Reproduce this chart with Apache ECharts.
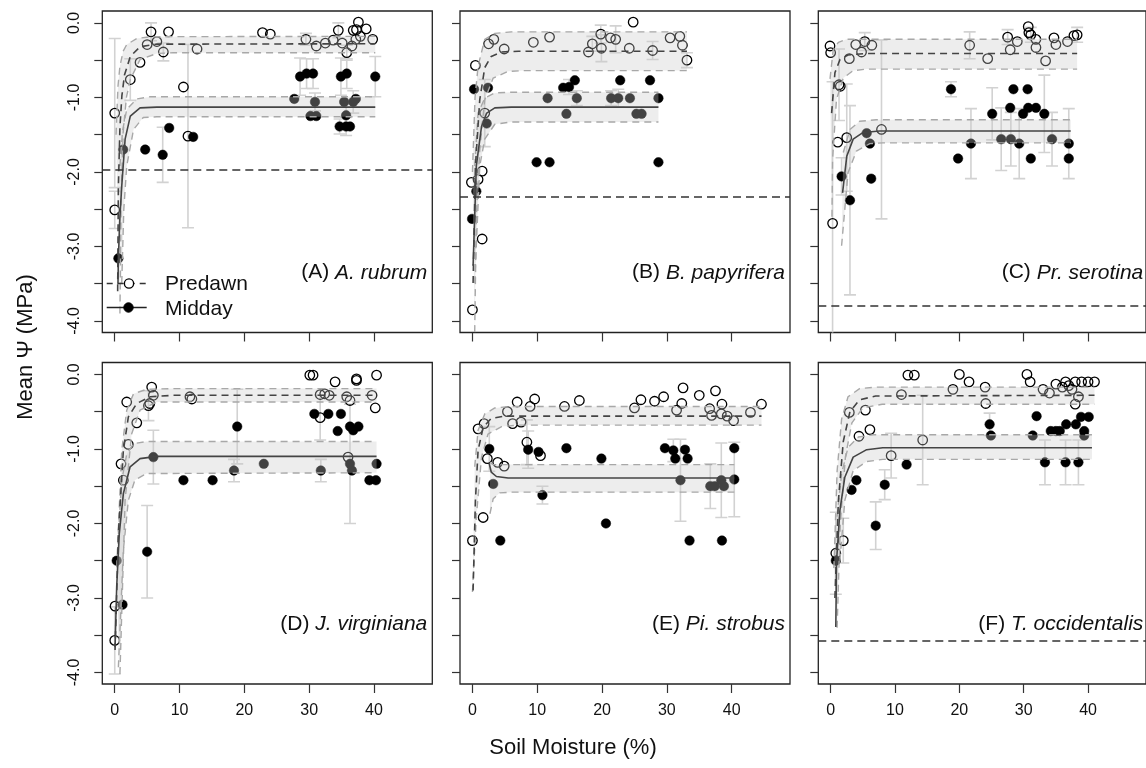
<!DOCTYPE html>
<html>
<head>
<meta charset="utf-8">
<title>Mean water potential vs soil moisture</title>
<script src="https://cdn.jsdelivr.net/npm/echarts@6.0.0/dist/echarts.min.js"></script>
<style>
  html, body { margin: 0; padding: 0; background: #ffffff; }
  #chart { width: 1146px; height: 768px; }
</style>
</head>
<body>
<div id="chart"></div>
<script>
// ---- panel text ----
const panelLetters = ['A', 'B', 'C', 'D', 'E', 'F'];
const speciesNames = ['A. rubrum', 'B. papyrifera', 'Pr. serotina', 'J. virginiana', 'Pi. strobus', 'T. occidentalis'];
const thresholds = [-1.97, -2.33, -3.80, null, null, -3.57];

// ---- axis ticks ----
const xTickValues = [0, 10, 20, 30, 40];
const yTickValues = [0, -0.5, -1, -1.5, -2, -2.5, -3, -3.5, -4];
const yLabelValues = [0, -1, -2, -3, -4];

// ---- observations: [soil moisture %, mean psi MPa, error] ----
const predawnA = [[0.0,-1.21,1.0],[0.0,-2.51,0.25],[2.4,-0.76,0.28],[3.9,-0.53,0],[5.0,-0.29,0],[5.6,-0.12,0.12],[6.5,-0.25,0],[7.5,-0.39,0.12],[8.3,-0.12,0],[10.6,-0.86,0],[11.3,-1.52,1.23],[12.7,-0.35,0],[22.8,-0.13,0],[24.0,-0.15,0],[29.5,-0.22,0.08],[31.1,-0.31,0],[32.5,-0.27,0],[33.7,-0.23,0],[34.5,-0.10,0.1],[35.1,-0.27,0],[35.8,-0.40,0.1],[36.6,-0.31,0],[36.8,-0.10,0],[37.2,-0.22,0],[37.3,-0.09,0],[37.6,0.01,0],[37.9,-0.18,0],[38.8,-0.08,0],[39.8,-0.22,0]];
const middayA = [[0.56,-3.16,0],[1.3,-1.70,0],[4.7,-1.70,0],[7.4,-1.77,0.37],[8.4,-1.41,0],[12.1,-1.53,0],[27.7,-1.02,0],[28.6,-0.72,0.25],[29.6,-0.68,0.2],[30.6,-0.68,0.2],[30.9,-1.06,0.12],[30.2,-1.25,0],[31.1,-1.25,0],[34.9,-0.72,0.25],[35.8,-0.68,0.2],[35.4,-1.06,0],[35.7,-1.24,0.15],[34.7,-1.39,0.1],[35.7,-1.39,0.12],[36.3,-1.39,0],[36.8,-1.06,0.15],[37.2,-1.02,0],[40.2,-0.72,0.27]];

const predawnB = [[0.46,-0.57,0],[2.5,-0.28,0],[3.3,-0.22,0],[4.9,-0.35,0],[9.4,-0.26,0],[11.9,-0.19,0],[17.9,-0.39,0],[18.5,-0.28,0.1],[19.8,-0.15,0.12],[19.9,-0.34,0.18],[21.3,-0.20,0],[22.1,-0.22,0.18],[24.2,-0.34,0],[24.8,0.01,0],[27.8,-0.37,0.12],[30.5,-0.20,0],[32.0,-0.18,0],[32.4,-0.30,0],[33.1,-0.50,0.1],[-0.16,-2.14,0],[0.87,-2.10,0],[1.5,-1.99,0],[1.5,-2.90,0],[1.9,-1.21,0.45],[0.0,-3.85,0]];
const middayB = [[0.25,-0.89,0],[2.4,-0.87,0],[2.2,-1.35,0],[0.6,-2.26,0],[-0.06,-2.63,0],[11.6,-1.01,0],[14.0,-0.87,0],[14.9,-0.86,0.1],[15.8,-0.77,0],[16.1,-1.01,0.1],[14.5,-1.22,0],[9.9,-1.87,0],[11.9,-1.87,0],[21.4,-1.01,0.1],[22.5,-1.01,0.12],[22.8,-0.77,0],[24.3,-1.01,0],[25.3,-1.22,0],[26.1,-1.22,0],[27.4,-0.77,0],[28.7,-1.01,0],[28.7,-1.87,0]];

const predawnC = [[-0.1,-0.31,0],[0.0,-0.40,0],[1.3,-0.83,0.48],[1.5,-0.85,0],[2.9,-0.48,0],[3.9,-0.29,0],[4.8,-0.39,0],[5.3,-0.25,0.12],[6.4,-0.30,0],[1.1,-1.60,0],[2.5,-1.54,0.72],[7.9,-1.43,1.2],[0.3,-2.69,1.9],[21.6,-0.30,0.18],[24.4,-0.48,0],[27.5,-0.19,0.1],[27.9,-0.36,0],[29.0,-0.25,0],[30.7,-0.05,0],[30.8,-0.13,0],[31.1,-0.16,0.1],[31.9,-0.22,0],[31.9,-0.33,0],[33.4,-0.51,0],[34.7,-0.20,0],[35.0,-0.29,0],[36.8,-0.25,0],[37.8,-0.17,0],[38.3,-0.16,0.1]];
const middayC = [[1.7,-2.06,0.25],[3.0,-2.38,1.27],[5.6,-1.48,0],[6.1,-1.62,0],[6.3,-2.09,0],[18.7,-0.89,0.1],[19.8,-1.82,0],[21.8,-1.62,0.47],[25.1,-1.22,0.35],[26.5,-1.56,0.42],[27.9,-1.14,0],[28.0,-1.56,0.36],[28.4,-0.89,0],[29.3,-1.62,0.47],[29.9,-1.22,0],[30.6,-0.89,0],[30.7,-1.14,0],[31.1,-1.82,0],[31.9,-1.14,0],[33.2,-1.22,0.52],[34.4,-1.56,0.36],[37.0,-1.62,0.47],[37.0,-1.82,0]];

const predawnD = [[0.0,-3.57,0.45],[0.05,-3.11,0],[0.97,-1.20,0],[1.33,-1.42,0],[2.1,-0.94,0],[3.4,-0.65,0],[1.85,-0.37,0],[5.2,-0.42,0.2],[5.7,-0.17,0],[5.96,-0.28,0],[5.4,-0.39,0],[11.6,-0.30,0],[11.9,-0.33,0],[30.1,-0.01,0],[30.6,-0.01,0],[31.7,-0.58,0.3],[31.7,-0.27,0],[32.4,-0.26,0],[33.1,-0.28,0],[34.0,-0.10,0],[35.8,-0.30,0],[36.0,-1.11,0],[36.3,-0.35,0],[37.3,-0.08,0],[37.3,-0.06,0],[39.7,-0.28,0],[40.4,-0.01,0],[40.2,-0.45,0]];
const middayD = [[0.3,-2.50,0],[1.2,-3.09,0],[5.0,-2.38,0.62],[5.96,-1.11,0.36],[10.6,-1.42,0],[15.1,-1.42,0],[18.4,-1.29,0.15],[18.9,-0.70,0.5],[23.0,-1.20,0],[30.8,-0.53,0],[31.8,-1.29,0.15],[32.96,-0.53,0],[34.4,-0.76,0],[34.9,-0.53,0],[36.3,-0.70,0],[36.8,-0.75,0],[37.6,-0.70,0],[36.3,-1.20,0.8],[36.6,-1.29,0],[39.3,-1.42,0],[40.3,-1.42,0],[40.4,-1.20,0]];

const predawnE = [[0.0,-2.23,0],[1.65,-1.92,0],[0.87,-0.73,0],[1.8,-0.66,0],[2.3,-1.13,0],[3.9,-1.18,0],[4.9,-1.23,0],[5.4,-0.50,0],[6.2,-0.66,0],[7.5,-0.64,0],[6.9,-0.37,0],[8.9,-0.43,0],[8.4,-0.91,0.3],[9.6,-0.33,0],[10.5,-1.09,0],[14.2,-0.43,0],[16.5,-0.35,0],[25.0,-0.45,0],[26.0,-0.34,0],[28.1,-0.36,0],[29.5,-0.30,0],[31.5,-0.48,0],[32.3,-0.39,0],[32.5,-0.18,0],[35.0,-0.28,0],[36.6,-0.46,0],[36.9,-0.55,0],[37.5,-0.22,0],[38.4,-0.53,0],[38.5,-0.40,0],[39.3,-0.56,0],[40.3,-0.62,0],[42.9,-0.51,0],[44.6,-0.40,0]];
const middayE = [[2.6,-1.00,0.3],[3.2,-1.47,0],[4.3,-2.23,0],[8.6,-1.01,0.25],[10.2,-1.04,0],[10.8,-1.62,0.12],[14.5,-0.99,0],[19.9,-1.13,0],[20.6,-2.00,0],[29.7,-0.99,0],[31.0,-1.02,0.15],[31.3,-1.13,0],[32.1,-1.42,0.55],[32.8,-1.01,0],[33.2,-1.13,0],[33.5,-2.23,0],[36.7,-1.50,0.3],[37.4,-1.50,0],[38.4,-1.42,0.5],[38.8,-1.50,0],[38.5,-2.23,0],[40.4,-0.99,0],[40.4,-1.41,0.5]];

const predawnF = [[0.8,-2.40,0.55],[1.96,-2.23,0.3],[2.9,-0.51,0],[4.4,-0.83,0],[5.4,-0.48,0],[6.1,-0.74,0],[9.4,-1.09,0.3],[14.3,-0.88,0.6],[11.0,-0.27,0],[12.0,-0.01,0],[13.0,-0.01,0],[19.0,-0.20,0],[20.0,0.0,0],[21.5,-0.10,0],[24.0,-0.17,0],[24.1,-0.39,0],[30.5,0.0,0],[31.0,-0.10,0],[33.0,-0.20,0],[34.0,-0.25,0],[35.0,-0.13,0],[36.0,-0.17,0],[36.5,-0.10,0],[37.0,-0.15,0],[37.5,-0.20,0],[38.0,-0.40,0],[38.0,-0.10,0],[38.5,-0.30,0],[39.0,-0.10,0],[40.0,-0.10,0],[41.0,-0.10,0]];
const middayF = [[0.8,-2.50,0],[3.25,-1.55,0],[4.0,-1.42,0],[7.0,-2.03,0.32],[8.4,-1.48,0.2],[11.8,-1.21,0],[24.7,-0.67,0.15],[24.9,-0.82,0],[31.4,-0.82,0],[32.0,-0.56,0],[33.3,-1.18,0.3],[34.2,-0.76,0],[35.0,-0.76,0],[35.6,-0.76,0],[36.5,-1.18,0.3],[36.6,-0.67,0],[38.1,-0.67,0],[38.5,-1.18,0.3],[38.9,-0.57,0],[39.4,-0.76,0],[39.4,-0.82,0],[40.1,-0.57,0]];

// ---- fitted curves and confidence bounds: [soil moisture %, psi MPa] ----
const predawnFitA = [[0.45,-3.6],[0.56,-2.2],[0.8,-1.4],[1.1,-0.98],[1.5,-0.70],[2.4,-0.45],[3.9,-0.32],[6.5,-0.285],[40.2,-0.28]];
const predawnUpperA = [[0.2,-1.5],[0.5,-0.85],[0.8,-0.58],[1.3,-0.38],[1.85,-0.29],[3.4,-0.21],[5.5,-0.185],[40.2,-0.18]];
const predawnLowerA = [[0.8,-3.9],[1.0,-2.3],[1.3,-1.47],[1.8,-1.0],[2.4,-0.76],[3.9,-0.49],[6.5,-0.41],[9,-0.40],[40.2,-0.40]];
const middayFitA = [[0.5,-3.5],[0.56,-3.16],[0.8,-2.6],[1.08,-2.19],[1.6,-1.56],[2.4,-1.25],[3.9,-1.14],[6.5,-1.13],[40.2,-1.13]];
const middayUpperA = [[0.8,-1.92],[1.2,-1.45],[1.85,-1.16],[3.4,-1.02],[5.5,-0.99],[40.2,-0.99]];
const middayLowerA = [[1.08,-3.49],[1.4,-2.5],[1.85,-1.92],[2.9,-1.43],[4.4,-1.27],[6.5,-1.26],[40.2,-1.26]];

const predawnFitB = [[0.1,-3.49],[0.46,-1.92],[1.13,-1.03],[1.9,-0.60],[2.9,-0.45],[4.5,-0.39],[7.1,-0.38],[33.1,-0.38]];
const predawnUpperB = [[0.0,-2.0],[0.4,-1.0],[0.87,-0.58],[1.9,-0.22],[3.45,-0.14],[6,-0.12],[33.1,-0.12]];
const predawnLowerB = [[0.35,-4.15],[0.6,-2.6],[1.13,-1.70],[1.9,-1.03],[3.2,-0.74],[5.5,-0.65],[8,-0.64],[33.1,-0.64]];
const middayFitB = [[0.1,-3.26],[0.6,-1.92],[1.4,-1.39],[2.2,-1.21],[3.45,-1.14],[6,-1.13],[28.7,-1.13]];
const middayUpperB = [[0.35,-1.92],[0.87,-1.21],[1.9,-1.01],[3.45,-0.94],[6,-0.93],[28.7,-0.93]];
const middayLowerB = [[0.35,-3.49],[1.13,-1.92],[1.9,-1.56],[3.45,-1.36],[6,-1.33],[28.7,-1.33]];

const predawnFitC = [[0.15,-1.21],[0.66,-0.67],[1.45,-0.49],[2.7,-0.43],[5.6,-0.41],[38.3,-0.41]];
const predawnUpperC = [[-0.1,-0.75],[0.4,-0.36],[1.2,-0.26],[2.5,-0.22],[38.3,-0.22]];
const predawnLowerC = [[0.2,-2.6],[0.3,-1.83],[0.9,-1.03],[1.96,-0.74],[3.5,-0.64],[5.6,-0.62],[38.3,-0.62]];
const middayFitC = [[1.85,-2.28],[2.5,-1.79],[3.5,-1.56],[5.05,-1.47],[7.6,-1.45],[37.3,-1.45]];
const middayUpperC = [[1.96,-1.74],[3.0,-1.43],[4.5,-1.32],[7.1,-1.30],[37.3,-1.30]];
const middayLowerC = [[1.7,-2.99],[2.7,-2.01],[4.0,-1.72],[6.1,-1.62],[8.1,-1.61],[37.3,-1.61]];

const predawnFitD = [[0.05,-3.7],[0.56,-2.14],[1.33,-1.02],[2.1,-0.57],[3.4,-0.39],[5.45,-0.30],[9,-0.28],[40.4,-0.28]];
const predawnUpperD = [[0.3,-2.59],[1.08,-1.02],[1.85,-0.48],[2.9,-0.26],[4.9,-0.20],[9,-0.19],[40.4,-0.19]];
const predawnLowerD = [[0.8,-4.02],[1.6,-1.69],[2.6,-0.80],[3.9,-0.48],[6.5,-0.37],[40.4,-0.37]];
const middayFitD = [[0.05,-3.66],[0.3,-2.85],[0.7,-2.14],[1.33,-1.60],[2.37,-1.24],[3.9,-1.13],[6.5,-1.10],[40.4,-1.10]];
const middayUpperD = [[0.56,-2.14],[1.08,-1.42],[1.85,-1.07],[2.9,-0.93],[4.9,-0.90],[40.4,-0.90]];
const middayLowerD = [[0.56,-3.93],[1.33,-2.36],[2.1,-1.69],[3.1,-1.42],[4.9,-1.33],[40.4,-1.32]];

const predawnFitE = [[0.1,-2.9],[0.46,-1.69],[0.87,-1.02],[1.65,-0.71],[2.9,-0.59],[5,-0.56],[44.6,-0.56]];
const predawnUpperE = [[0.35,-1.24],[0.87,-0.75],[1.9,-0.53],[3.45,-0.45],[6,-0.43],[44.6,-0.43]];
const predawnLowerE = [[0,-2.92],[0.6,-1.91],[1.4,-1.11],[2.4,-0.80],[4.5,-0.70],[7,-0.68],[44.6,-0.68]];
const middayFitE = [[2.6,-1.20],[2.9,-1.31],[3.7,-1.37],[5.5,-1.39],[40.4,-1.39]];
const middayUpperE = [[2.7,-1.18],[3.2,-1.21],[4.5,-1.21],[40.4,-1.21]];
const middayLowerE = [[2.7,-1.87],[3.2,-1.67],[4.2,-1.59],[6,-1.58],[40.4,-1.58]];

const predawnFitF = [[0.66,-3.0],[1.2,-1.7],[1.96,-0.9],[3,-0.5],[4.5,-0.34],[7,-0.29],[41,-0.28]];
const predawnUpperF = [[0.5,-2.6],[1.0,-1.3],[1.7,-0.6],[2.7,-0.3],[4.5,-0.19],[7,-0.17],[41,-0.17]];
const predawnLowerF = [[1.0,-3.4],[1.5,-2.0],[2.3,-1.1],[3.3,-0.65],[5,-0.45],[8,-0.40],[41,-0.40]];
const middayFitF = [[0.8,-3.39],[0.92,-2.5],[1.44,-1.82],[2.2,-1.38],[3.5,-1.11],[5.6,-1.01],[8.1,-0.985],[40.6,-0.985]];
const middayUpperF = [[1.0,-1.91],[1.7,-1.33],[2.7,-0.98],[4.3,-0.84],[6.6,-0.81],[40.6,-0.81]];
const middayLowerF = [[1.44,-2.5],[2.2,-1.69],[3.5,-1.29],[5.6,-1.17],[8.1,-1.14],[40.6,-1.14]];

// ---- per-panel lookup ----
const predawnPoints = [predawnA, predawnB, predawnC, predawnD, predawnE, predawnF];
const middayPoints = [middayA, middayB, middayC, middayD, middayE, middayF];
const predawnFits = [predawnFitA, predawnFitB, predawnFitC, predawnFitD, predawnFitE, predawnFitF];
const predawnUppers = [predawnUpperA, predawnUpperB, predawnUpperC, predawnUpperD, predawnUpperE, predawnUpperF];
const predawnLowers = [predawnLowerA, predawnLowerB, predawnLowerC, predawnLowerD, predawnLowerE, predawnLowerF];
const middayFits = [middayFitA, middayFitB, middayFitC, middayFitD, middayFitE, middayFitF];
const middayUppers = [middayUpperA, middayUpperB, middayUpperC, middayUpperD, middayUpperE, middayUpperF];
const middayLowers = [middayLowerA, middayLowerB, middayLowerC, middayLowerD, middayLowerE, middayLowerF];

// ---- layout ----
const FONT = 'Liberation Sans, Arial, Helvetica, sans-serif';
const colLeft = [102.3, 460, 818.3];
const rowTop = [11, 362.5];
const boxW = 330, boxH = 321.5;
const xRange = [-1.92, 49.0];
const yRange = [-4.155, 0.16];

const BAND_FILL = 'rgba(200,200,200,0.33)';
const ERR_COLOR = '#d2d2d2';
const DASH = [7, 5];

function errorBarSeries(idx, pts) {
  return {
    type: 'custom', xAxisIndex: idx, yAxisIndex: idx, z: 1, clip: true, silent: true,
    data: pts.filter(p => p[2] > 0),
    renderItem(params, api) {
      const x = api.value(0), y = api.value(1), e = api.value(2);
      const top = api.coord([x, y + e]);
      const bot = api.coord([x, y - e]);
      const cw = 6;
      const st = { stroke: ERR_COLOR, lineWidth: 1.6 };
      return {
        type: 'group',
        children: [
          { type: 'line', shape: { x1: top[0], y1: top[1], x2: bot[0], y2: bot[1] }, style: st },
          { type: 'line', shape: { x1: top[0] - cw, y1: top[1], x2: top[0] + cw, y2: top[1] }, style: st },
          { type: 'line', shape: { x1: bot[0] - cw, y1: bot[1], x2: bot[0] + cw, y2: bot[1] }, style: st }
        ]
      };
    }
  };
}

function bandSeries(idx, upper, lower) {
  return {
    type: 'custom', xAxisIndex: idx, yAxisIndex: idx, z: 3, clip: true, silent: true,
    data: [[0, 0]],
    renderItem(params, api) {
      const pts = upper.map(p => api.coord(p)).concat(lower.slice().reverse().map(p => api.coord(p)));
      return { type: 'polygon', shape: { points: pts }, style: { fill: BAND_FILL } };
    }
  };
}

function lineSeries(idx, data, color, type, width) {
  return {
    type: 'line', xAxisIndex: idx, yAxisIndex: idx, z: 4, silent: true,
    data: data, showSymbol: false, symbol: 'none', smooth: false, clip: true,
    lineStyle: { color: color, type: type, width: width }
  };
}

const grids = [], xAxes = [], yAxes = [], series = [], graphics = [];

for (let i = 0; i < 6; i++) {
  const col = i % 3, row = Math.floor(i / 3);
  const left = colLeft[col], top = rowTop[row];
  grids.push({ left: left, top: top, width: boxW, height: boxH, show: true,
    borderColor: '#222', borderWidth: 1.3, backgroundColor: 'transparent', containLabel: false });

  xAxes.push({
    gridIndex: i, type: 'value', min: xRange[0], max: xRange[1], position: 'bottom',
    axisLine: { show: false, onZero: false }, splitLine: { show: false },
    axisTick: { show: true, customValues: xTickValues, length: 9, lineStyle: { color: '#333', width: 1.2 } },
    axisLabel: { show: row === 1, customValues: xTickValues, margin: 19, color: '#111',
      fontSize: 16, fontFamily: FONT }
  });
  yAxes.push({
    gridIndex: i, type: 'value', min: yRange[0], max: yRange[1], position: 'left',
    axisLine: { show: false, onZero: false }, splitLine: { show: false },
    axisTick: { show: true, customValues: yTickValues, length: 8, lineStyle: { color: '#333', width: 1.2 } },
    axisLabel: { show: col === 0, customValues: yLabelValues, rotate: 90, margin: 20, color: '#111',
      fontSize: 16, fontFamily: FONT, formatter: v => Number(v).toFixed(1) }
  });

  // error bars under the points
  series.push(errorBarSeries(i, predawnPoints[i]));
  series.push(errorBarSeries(i, middayPoints[i]));

  // observations
  series.push({
    name: 'Predawn', type: 'scatter', xAxisIndex: i, yAxisIndex: i, z: 2, clip: false, silent: true,
    data: predawnPoints[i].map(p => [p[0], p[1]]), symbol: 'circle', symbolSize: 9.5,
    itemStyle: { color: 'rgba(0,0,0,0)', borderColor: '#000', borderWidth: 1.3, opacity: 1 }
  });
  series.push({
    name: 'Midday', type: 'scatter', xAxisIndex: i, yAxisIndex: i, z: 2, clip: false, silent: true,
    data: middayPoints[i].map(p => [p[0], p[1]]), symbol: 'circle', symbolSize: 9.5,
    itemStyle: { color: '#000', borderColor: '#000', borderWidth: 0.5, opacity: 1 }
  });

  // translucent confidence bands over the points
  series.push(bandSeries(i, predawnUppers[i], predawnLowers[i]));
  series.push(bandSeries(i, middayUppers[i], middayLowers[i]));

  // fitted curves and bounds
  series.push(lineSeries(i, predawnUppers[i], '#a8a8a8', DASH, 1.4));
  series.push(lineSeries(i, predawnLowers[i], '#a8a8a8', DASH, 1.4));
  series.push(lineSeries(i, middayUppers[i], '#a8a8a8', DASH, 1.4));
  series.push(lineSeries(i, middayLowers[i], '#a8a8a8', DASH, 1.4));
  series.push(lineSeries(i, middayFits[i], '#444', 'solid', 1.6));
  const pd = lineSeries(i, predawnFits[i], '#444', DASH, 1.6);
  if (thresholds[i] !== null) {
    pd.markLine = {
      silent: true, symbol: 'none', label: { show: false },
      lineStyle: { color: '#333', type: [8, 5], width: 1.5 },
      data: [{ yAxis: thresholds[i] }]
    };
  }
  series.push(pd);

  // panel label
  graphics.push({
    type: 'text', x: left + boxW - 5, y: top + 261.7, z: 10,
    style: {
      text: '{n|(' + panelLetters[i] + ') }{s|' + speciesNames[i] + '}',
      align: 'right', verticalAlign: 'middle',
      rich: {
        n: { fontSize: 21, fontFamily: FONT, fill: '#111' },
        s: { fontSize: 21, fontFamily: FONT, fontStyle: 'italic', fill: '#111' }
      }
    }
  });
}

// legend inside panel A
graphics.push(
  { type: 'line', shape: { x1: 106.7, y1: 283.5, x2: 146.7, y2: 283.5 }, style: { stroke: '#333', lineWidth: 1.5, lineDash: [6, 5] }, z: 10 },
  { type: 'circle', shape: { cx: 129, cy: 283.5, r: 4.6 }, style: { fill: '#fff', stroke: '#000', lineWidth: 1.3 }, z: 11 },
  { type: 'text', x: 165, y: 284, style: { text: 'Predawn', fontSize: 21, fontFamily: FONT, fill: '#111', align: 'left', verticalAlign: 'middle' }, z: 10 },
  { type: 'line', shape: { x1: 106.7, y1: 307.5, x2: 146.7, y2: 307.5 }, style: { stroke: '#222', lineWidth: 1.5 }, z: 10 },
  { type: 'circle', shape: { cx: 128.5, cy: 307.5, r: 4.7 }, style: { fill: '#000', stroke: '#000', lineWidth: 1 }, z: 11 },
  { type: 'text', x: 165, y: 309, style: { text: 'Midday', fontSize: 21, fontFamily: FONT, fill: '#111', align: 'left', verticalAlign: 'middle' }, z: 10 }
);

// axis titles
graphics.push(
  { type: 'text', x: 26, y: 347, rotation: Math.PI / 2,
    style: { text: 'Mean \u03A8 (MPa)', fontSize: 22, fontFamily: FONT, fill: '#111', align: 'center', verticalAlign: 'middle' } },
  { type: 'text', x: 573, y: 748,
    style: { text: 'Soil Moisture (%)', fontSize: 22, fontFamily: FONT, fill: '#111', align: 'center', verticalAlign: 'middle' } }
);

const chart = echarts.init(document.getElementById('chart'), null, { renderer: 'canvas' });
chart.setOption({
  animation: false,
  backgroundColor: '#ffffff',
  grid: grids,
  xAxis: xAxes,
  yAxis: yAxes,
  series: series,
  graphic: graphics
});
</script>
</body>
</html>
